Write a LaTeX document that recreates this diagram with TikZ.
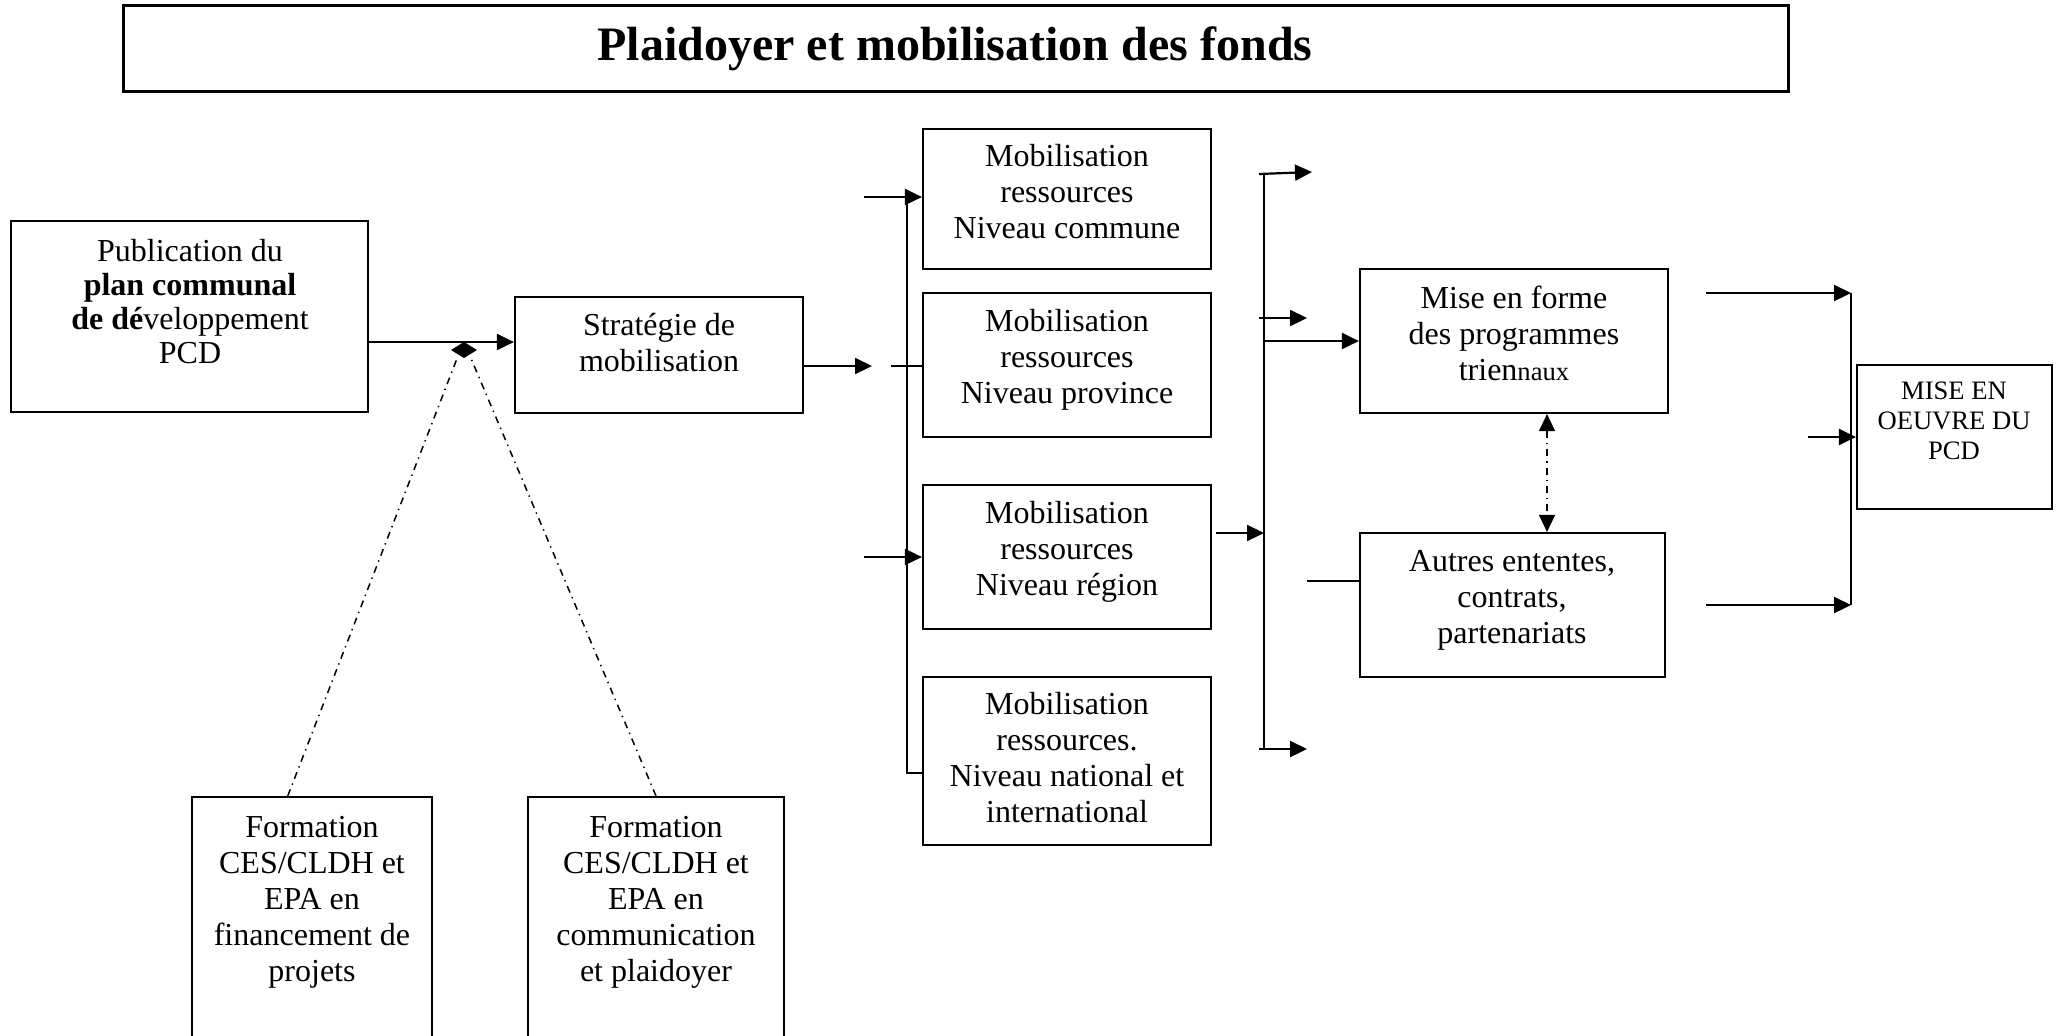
\documentclass[tikz,border=0pt]{standalone}
\usepackage{fontspec}
\setmainfont{Liberation Serif}
\usetikzlibrary{arrows.meta,fit,calc}

\begin{document}
\begin{tikzpicture}[x=0.5pt,y=-0.5pt,
  box/.style={draw, line width=1.1pt, rectangle, inner sep=0pt},
  txt/.style={align=center, inner sep=0pt, font=\fontsize{16pt}{18pt}\selectfont},
  small/.style={font=\fontsize{13.3pt}{15pt}\selectfont},
  link/.style={line width=1.1pt},
  tip/.tip={Triangle[length=8.5pt,width=8pt]},
  arr/.style={link, -tip},
  dashdot/.style={line width=0.75pt, dash pattern=on 3.5pt off 2.5pt on 0.7pt off 2.5pt}]

\useasboundingbox (0,0) rectangle (2062,1035);
\clip (0,0) rectangle (2062,1035);

% title banner
\node[box, line width=1.5pt, fit={(123,5)(1788,91)}] (title) {};
\node[txt, font=\bfseries\fontsize{24pt}{28pt}\selectfont] (title-t) at (955,48.5)
  {Plaidoyer et mobilisation des fonds};

% boxes
\node[box, fit={(11,221)(368,412)}] (pub) {};
\node[txt, font=\fontsize{16pt}{17pt}\selectfont] (pub-t) at (190,301.5)
  {Publication du\\ \textbf{plan communal}\\\textbf{de dé}veloppement\\PCD};

\node[box, fit={(515,297)(803,413)}] (strat) {};
\node[txt] (strat-t) at (659,343) {Stratégie de\\mobilisation};

\node[box, fit={(923,129)(1211,269)}] (commune) {};
\node[txt] (commune-t) at (1067,192) {Mobilisation\\ressources\\Niveau commune};

\node[box, fit={(923,293)(1211,437)}] (province) {};
\node[txt] (province-t) at (1067,359.5) {Mobilisation\\ressources\\Niveau province};

\node[box, fit={(923,485)(1211,629)}] (region) {};
\node[txt] (region-t) at (1067,551.5) {Mobilisation\\ressources\\Niveau région};

\node[box, fit={(923,677)(1211,845)}] (national) {};
\node[txt] (national-t) at (1067,758)
  {Mobilisation\\ressources.\\Niveau national et\\international};

\node[box, fit={(1360,269)(1668,413)}] (mise) {};
\node[txt] (mise-t) at (1514,333.5)
  {Mise en forme\\des programmes\\trien{\fontsize{13.3pt}{18pt}\selectfont naux}};

\node[box, fit={(1360,533)(1665,677)}] (autres) {};
\node[txt] (autres-t) at (1512,600) {Autres ententes,\\contrats,\\partenariats};

\node[box, fit={(1857,365)(2052,509)}] (oeuvre) {};
\node[txt, small] (oeuvre-t) at (1954,421) {MISE EN\\OEUVRE DU\\PCD};

\node[box, fit={(192,797)(432,1100)}] (formA) {};
\node[txt] (formA-t) at (312,902)
  {Formation\\CES/CLDH et\\EPA en\\financement de\\projets};

\node[box, fit={(528,797)(784,1100)}] (formB) {};
\node[txt] (formB-t) at (656,902)
  {Formation\\CES/CLDH et\\EPA en\\communication\\et plaidoyer};

% junction points and free ends
\coordinate (join) at (464,342);
\coordinate (dl) at (458,356);
\coordinate (dr) at (470,356);
\coordinate (stratout) at (872,366);
\coordinate (provin) at (891,366);
\coordinate (lbtop) at (907,197);
\coordinate (lbbot) at (907,773);
\coordinate (cin) at (864,197);
\coordinate (rin) at (864,557);
\coordinate (rout) at (1216,533);
\coordinate (rbtop) at (1264,173);
\coordinate (rbbot) at (1264,749);
\coordinate (o1s) at (1259,174);
\coordinate (o1) at (1312,172);
\coordinate (o2s) at (1259,318);
\coordinate (o2) at (1307,318);
\coordinate (misein) at (1264,341);
\coordinate (o4s) at (1259,749);
\coordinate (o4) at (1307,749);
\coordinate (ain) at (1307,581);
\coordinate (vx) at (1547,0);
\coordinate (m1) at (1706,293);
\coordinate (m2) at (1706,605);
\coordinate (fbtop) at (1851,293);
\coordinate (fbbot) at (1851,605);
\coordinate (m3) at (1808,437);

% publication to strategy, with the training inputs
\draw[arr] (pub.east |- join) -- (strat.west |- join);
\fill (join) -- ++(13,8) -- ++(-13,8) -- ++(-13,-8) -- cycle;
\draw[dashdot] ($(formA.north west)!0.4!(formA.north east)$) -- (dl);
\draw[dashdot] (formB.north) -- (dr);

% strategy to the resource levels
\draw[arr] (strat.east |- stratout) -- (stratout);
\draw[link] (provin) -- (province.west |- provin);
\draw[link] (lbtop) -- (lbbot) -- (national.west |- lbbot);
\draw[arr] (cin) -- (commune.west |- cin);
\draw[arr] (rin) -- (region.west |- rin);

% resource levels to programming
\draw[arr] (rout) -- (rbbot |- rout);
\draw[link] (rbtop) -- (rbbot);
\draw[arr] (o1s) -- (o1);
\draw[arr] (o2s) -- (o2);
\draw[arr] (misein) -- (mise.west |- misein);
\draw[arr] (o4s) -- (o4);
\draw[link] (ain) -- (autres.west |- ain);
\draw[dashdot, tip-tip] (mise.south -| vx) -- (autres.north -| vx);

% programming to implementation
\draw[arr] (m1) -- (fbtop);
\draw[arr] (m2) -- (fbbot);
\draw[link] (fbtop) -- (fbbot);
\draw[arr] (m3) -- (oeuvre.west |- m3);
\end{tikzpicture}
\end{document}
